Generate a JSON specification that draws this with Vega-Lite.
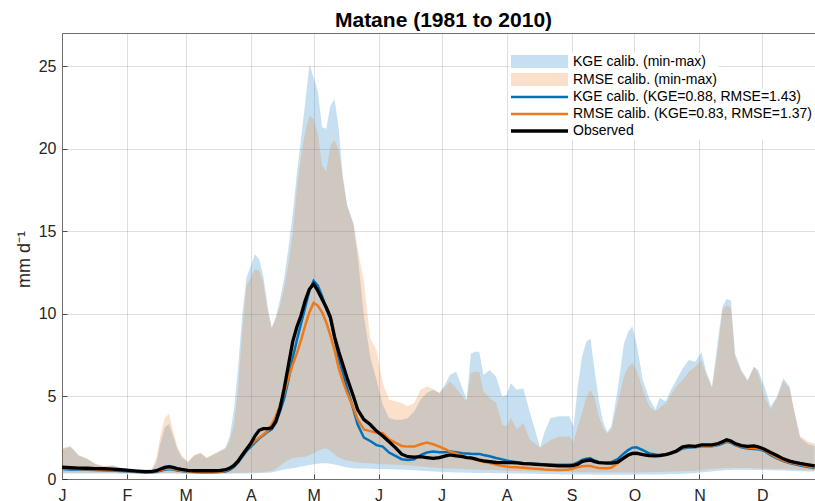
{
"$schema": "https://vega.github.io/schema/vega-lite/v6.json",
"width": 754,
"height": 446,
"autosize": {"type": "none"},
"padding": {"left": 62, "top": 33, "right": 0, "bottom": 22},
"background": "white",
"config": {
  "font": "Liberation Sans",
  "view": {"stroke": "#707070", "strokeWidth": 1},
  "axis": {"labelFont": "Liberation Sans", "labelFontSize": 16, "labelColor": "#262626", "domainColor": "#707070", "domainWidth": 1, "tickColor": "#262626", "tickWidth": 0.8, "tickSize": -5, "gridColor": "#262626", "gridOpacity": 0.15, "gridWidth": 1, "labelFlush": false, "labelOverlap": false},
  "legend": {"orient": "none", "fillColor": "white", "padding": 1.5, "labelFont": "Liberation Sans", "labelFontSize": 14, "labelColor": "black", "symbolSize": 144, "symbolOffset": 21.5, "labelOffset": 26.5, "labelLimit": 500}
},
"title": {"text": "Matane (1981 to 2010)", "font": "Liberation Sans", "fontSize": 21, "fontWeight": "bold", "color": "black", "anchor": "middle", "frame": "group", "baseline": "alphabetic", "offset": 6, "dx": 4.5, "dy": 21},
"data": {"values": [
{"day":1,"kmin":0.33,"kmax":1.8,"rmin":0.38,"rmax":1.86,"kge":0.6,"rmse":0.64,"obs":0.71},
{"day":5,"kmin":0.33,"kmax":1.95,"rmin":0.38,"rmax":2.0,"kge":0.58,"rmse":0.62,"obs":0.68},
{"day":9,"kmin":0.33,"kmax":1.4,"rmin":0.38,"rmax":1.46,"kge":0.57,"rmse":0.6,"obs":0.66},
{"day":13,"kmin":0.33,"kmax":1.2,"rmin":0.38,"rmax":1.25,"kge":0.56,"rmse":0.59,"obs":0.65},
{"day":17,"kmin":0.33,"kmax":0.9,"rmin":0.38,"rmax":0.92,"kge":0.55,"rmse":0.58,"obs":0.63},
{"day":21,"kmin":0.33,"kmax":0.75,"rmin":0.38,"rmax":0.78,"kge":0.53,"rmse":0.56,"obs":0.62},
{"day":25,"kmin":0.33,"kmax":0.82,"rmin":0.38,"rmax":0.8,"kge":0.51,"rmse":0.54,"obs":0.6},
{"day":29,"kmin":0.32,"kmax":0.68,"rmin":0.37,"rmax":0.65,"kge":0.48,"rmse":0.51,"obs":0.56},
{"day":33,"kmin":0.32,"kmax":0.6,"rmin":0.36,"rmax":0.6,"kge":0.45,"rmse":0.48,"obs":0.52},
{"day":37,"kmin":0.31,"kmax":0.55,"rmin":0.35,"rmax":0.55,"kge":0.42,"rmse":0.45,"obs":0.48},
{"day":41,"kmin":0.31,"kmax":0.55,"rmin":0.35,"rmax":0.57,"kge":0.4,"rmse":0.43,"obs":0.45},
{"day":44,"kmin":0.31,"kmax":0.58,"rmin":0.35,"rmax":0.62,"kge":0.41,"rmse":0.43,"obs":0.46},
{"day":46,"kmin":0.31,"kmax":1.0,"rmin":0.35,"rmax":1.3,"kge":0.44,"rmse":0.47,"obs":0.5},
{"day":48,"kmin":0.32,"kmax":2.2,"rmin":0.36,"rmax":2.7,"kge":0.5,"rmse":0.54,"obs":0.6},
{"day":50,"kmin":0.33,"kmax":3.1,"rmin":0.37,"rmax":3.7,"kge":0.56,"rmse":0.6,"obs":0.7},
{"day":52,"kmin":0.33,"kmax":3.35,"rmin":0.37,"rmax":3.95,"kge":0.6,"rmse":0.64,"obs":0.75},
{"day":54,"kmin":0.33,"kmax":2.6,"rmin":0.37,"rmax":2.9,"kge":0.57,"rmse":0.6,"obs":0.7},
{"day":56,"kmin":0.32,"kmax":1.8,"rmin":0.36,"rmax":2.0,"kge":0.52,"rmse":0.55,"obs":0.63},
{"day":58,"kmin":0.32,"kmax":1.35,"rmin":0.36,"rmax":1.45,"kge":0.48,"rmse":0.5,"obs":0.58},
{"day":61,"kmin":0.31,"kmax":1.0,"rmin":0.35,"rmax":1.05,"kge":0.44,"rmse":0.46,"obs":0.52},
{"day":64,"kmin":0.31,"kmax":1.4,"rmin":0.35,"rmax":1.45,"kge":0.42,"rmse":0.44,"obs":0.5},
{"day":67,"kmin":0.31,"kmax":1.55,"rmin":0.35,"rmax":1.6,"kge":0.41,"rmse":0.43,"obs":0.5},
{"day":70,"kmin":0.31,"kmax":1.25,"rmin":0.35,"rmax":1.3,"kge":0.41,"rmse":0.43,"obs":0.5},
{"day":73,"kmin":0.31,"kmax":1.45,"rmin":0.35,"rmax":1.5,"kge":0.41,"rmse":0.43,"obs":0.5},
{"day":76,"kmin":0.31,"kmax":1.65,"rmin":0.35,"rmax":1.7,"kge":0.42,"rmse":0.44,"obs":0.51},
{"day":79,"kmin":0.32,"kmax":1.9,"rmin":0.36,"rmax":1.8,"kge":0.46,"rmse":0.5,"obs":0.56},
{"day":81,"kmin":0.32,"kmax":2.6,"rmin":0.36,"rmax":2.3,"kge":0.55,"rmse":0.62,"obs":0.66},
{"day":83,"kmin":0.33,"kmax":4.2,"rmin":0.37,"rmax":3.3,"kge":0.72,"rmse":0.85,"obs":0.82},
{"day":85,"kmin":0.33,"kmax":6.8,"rmin":0.37,"rmax":5.5,"kge":1.0,"rmse":1.15,"obs":1.08},
{"day":87,"kmin":0.34,"kmax":10.0,"rmin":0.38,"rmax":9.0,"kge":1.35,"rmse":1.5,"obs":1.45},
{"day":89,"kmin":0.34,"kmax":12.2,"rmin":0.38,"rmax":11.7,"kge":1.7,"rmse":1.85,"obs":1.8},
{"day":91,"kmin":0.35,"kmax":12.9,"rmin":0.39,"rmax":12.2,"kge":1.95,"rmse":2.05,"obs":2.15},
{"day":93,"kmin":0.35,"kmax":13.6,"rmin":0.39,"rmax":12.7,"kge":2.2,"rmse":2.3,"obs":2.6},
{"day":95,"kmin":0.36,"kmax":13.3,"rmin":0.4,"rmax":12.6,"kge":2.45,"rmse":2.5,"obs":2.95},
{"day":97,"kmin":0.37,"kmax":12.3,"rmin":0.42,"rmax":11.9,"kge":2.65,"rmse":2.7,"obs":3.05},
{"day":99,"kmin":0.38,"kmax":10.5,"rmin":0.45,"rmax":10.2,"kge":2.85,"rmse":2.9,"obs":3.05},
{"day":101,"kmin":0.4,"kmax":9.1,"rmin":0.5,"rmax":9.2,"kge":3.0,"rmse":3.28,"obs":3.1},
{"day":103,"kmin":0.45,"kmax":9.8,"rmin":0.6,"rmax":9.7,"kge":3.4,"rmse":3.8,"obs":3.5},
{"day":105,"kmin":0.52,"kmax":10.9,"rmin":0.8,"rmax":10.5,"kge":4.1,"rmse":4.5,"obs":4.3},
{"day":107,"kmin":0.58,"kmax":12.2,"rmin":1.0,"rmax":11.6,"kge":4.9,"rmse":5.2,"obs":5.5},
{"day":109,"kmin":0.62,"kmax":14.0,"rmin":1.15,"rmax":13.0,"kge":6.0,"rmse":6.1,"obs":6.9},
{"day":111,"kmin":0.65,"kmax":16.0,"rmin":1.25,"rmax":14.8,"kge":7.3,"rmse":6.9,"obs":8.3},
{"day":113,"kmin":0.7,"kmax":18.5,"rmin":1.3,"rmax":17.5,"kge":8.4,"rmse":7.6,"obs":9.2},
{"day":115,"kmin":0.75,"kmax":20.6,"rmin":1.33,"rmax":19.5,"kge":9.4,"rmse":8.4,"obs":9.9},
{"day":117,"kmin":0.8,"kmax":22.8,"rmin":1.35,"rmax":21.0,"kge":10.4,"rmse":9.3,"obs":10.8},
{"day":119,"kmin":0.85,"kmax":25.1,"rmin":1.45,"rmax":22.0,"kge":11.4,"rmse":10.1,"obs":11.5},
{"day":121,"kmin":0.9,"kmax":24.3,"rmin":1.55,"rmax":21.8,"kge":12.0,"rmse":10.66,"obs":11.8},
{"day":123,"kmin":0.92,"kmax":23.5,"rmin":1.7,"rmax":20.9,"kge":11.7,"rmse":10.5,"obs":11.4},
{"day":125,"kmin":0.95,"kmax":21.3,"rmin":1.82,"rmax":19.0,"kge":11.1,"rmse":10.1,"obs":10.9},
{"day":127,"kmin":0.95,"kmax":21.2,"rmin":1.86,"rmax":18.6,"kge":10.3,"rmse":9.5,"obs":10.4},
{"day":129,"kmin":0.92,"kmax":22.6,"rmin":1.7,"rmax":20.2,"kge":9.7,"rmse":8.7,"obs":9.8},
{"day":131,"kmin":0.88,"kmax":23.0,"rmin":1.5,"rmax":20.5,"kge":8.5,"rmse":7.8,"obs":8.6},
{"day":133,"kmin":0.82,"kmax":21.2,"rmin":1.3,"rmax":19.9,"kge":7.3,"rmse":6.7,"obs":7.7},
{"day":135,"kmin":0.75,"kmax":18.2,"rmin":1.2,"rmax":18.2,"kge":6.4,"rmse":5.9,"obs":6.9},
{"day":137,"kmin":0.7,"kmax":16.6,"rmin":1.12,"rmax":16.5,"kge":5.5,"rmse":5.2,"obs":6.1},
{"day":140,"kmin":0.65,"kmax":15.4,"rmin":1.05,"rmax":15.5,"kge":4.2,"rmse":4.3,"obs":5.0},
{"day":142,"kmin":0.64,"kmax":13.5,"rmin":1.0,"rmax":14.0,"kge":3.3,"rmse":3.6,"obs":4.2},
{"day":145,"kmin":0.63,"kmax":9.85,"rmin":0.97,"rmax":11.9,"kge":2.5,"rmse":3.0,"obs":3.6},
{"day":148,"kmin":0.62,"kmax":7.4,"rmin":0.95,"rmax":8.5,"kge":2.3,"rmse":2.9,"obs":3.3},
{"day":151,"kmin":0.61,"kmax":6.0,"rmin":0.92,"rmax":7.8,"kge":2.05,"rmse":2.8,"obs":2.9},
{"day":154,"kmin":0.6,"kmax":4.5,"rmin":0.9,"rmax":5.8,"kge":1.96,"rmse":2.77,"obs":2.6},
{"day":157,"kmin":0.6,"kmax":3.7,"rmin":0.88,"rmax":4.8,"kge":1.6,"rmse":2.4,"obs":2.25},
{"day":160,"kmin":0.58,"kmax":3.58,"rmin":0.86,"rmax":4.7,"kge":1.4,"rmse":2.2,"obs":1.9},
{"day":163,"kmin":0.57,"kmax":3.58,"rmin":0.84,"rmax":4.6,"kge":1.2,"rmse":2.0,"obs":1.5},
{"day":166,"kmin":0.55,"kmax":3.7,"rmin":0.82,"rmax":4.4,"kge":1.15,"rmse":1.96,"obs":1.35},
{"day":169,"kmin":0.53,"kmax":4.1,"rmin":0.8,"rmax":4.6,"kge":1.19,"rmse":1.96,"obs":1.32},
{"day":172,"kmin":0.5,"kmax":4.8,"rmin":0.75,"rmax":5.4,"kge":1.45,"rmse":2.1,"obs":1.35},
{"day":175,"kmin":0.48,"kmax":5.2,"rmin":0.72,"rmax":5.6,"kge":1.6,"rmse":2.2,"obs":1.3},
{"day":178,"kmin":0.46,"kmax":5.4,"rmin":0.7,"rmax":5.45,"kge":1.66,"rmse":2.1,"obs":1.25},
{"day":181,"kmin":0.44,"kmax":5.2,"rmin":0.66,"rmax":5.2,"kge":1.62,"rmse":1.96,"obs":1.3},
{"day":184,"kmin":0.42,"kmax":5.8,"rmin":0.64,"rmax":5.6,"kge":1.62,"rmse":1.8,"obs":1.4},
{"day":186,"kmin":0.41,"kmax":6.3,"rmin":0.63,"rmax":5.9,"kge":1.66,"rmse":1.66,"obs":1.46},
{"day":189,"kmin":0.4,"kmax":6.5,"rmin":0.62,"rmax":5.5,"kge":1.62,"rmse":1.55,"obs":1.4},
{"day":192,"kmin":0.39,"kmax":5.5,"rmin":0.6,"rmax":5.0,"kge":1.56,"rmse":1.4,"obs":1.35},
{"day":194,"kmin":0.38,"kmax":4.8,"rmin":0.59,"rmax":4.7,"kge":1.55,"rmse":1.32,"obs":1.3},
{"day":196,"kmin":0.38,"kmax":7.6,"rmin":0.58,"rmax":6.4,"kge":1.53,"rmse":1.25,"obs":1.28},
{"day":198,"kmin":0.37,"kmax":7.7,"rmin":0.57,"rmax":6.5,"kge":1.52,"rmse":1.18,"obs":1.22},
{"day":200,"kmin":0.37,"kmax":7.7,"rmin":0.56,"rmax":6.5,"kge":1.52,"rmse":1.1,"obs":1.15},
{"day":202,"kmin":0.36,"kmax":6.3,"rmin":0.55,"rmax":5.3,"kge":1.45,"rmse":1.05,"obs":1.1},
{"day":205,"kmin":0.36,"kmax":6.6,"rmin":0.54,"rmax":4.9,"kge":1.38,"rmse":0.97,"obs":1.05},
{"day":208,"kmin":0.35,"kmax":6.2,"rmin":0.53,"rmax":4.6,"kge":1.27,"rmse":0.88,"obs":1.0},
{"day":211,"kmin":0.35,"kmax":5.0,"rmin":0.52,"rmax":3.3,"kge":1.19,"rmse":0.78,"obs":0.99},
{"day":213,"kmin":0.34,"kmax":5.1,"rmin":0.51,"rmax":3.2,"kge":1.12,"rmse":0.75,"obs":0.99},
{"day":215,"kmin":0.34,"kmax":5.8,"rmin":0.5,"rmax":3.7,"kge":1.08,"rmse":0.73,"obs":0.99},
{"day":218,"kmin":0.33,"kmax":5.4,"rmin":0.49,"rmax":3.0,"kge":1.02,"rmse":0.71,"obs":0.98},
{"day":221,"kmin":0.33,"kmax":5.5,"rmin":0.48,"rmax":3.4,"kge":0.96,"rmse":0.68,"obs":0.93},
{"day":224,"kmin":0.32,"kmax":4.1,"rmin":0.47,"rmax":2.4,"kge":0.94,"rmse":0.65,"obs":0.91},
{"day":227,"kmin":0.32,"kmax":2.8,"rmin":0.46,"rmax":2.1,"kge":0.92,"rmse":0.62,"obs":0.89},
{"day":229,"kmin":0.31,"kmax":1.9,"rmin":0.45,"rmax":1.9,"kge":0.91,"rmse":0.6,"obs":0.87},
{"day":231,"kmin":0.31,"kmax":2.8,"rmin":0.45,"rmax":2.1,"kge":0.9,"rmse":0.58,"obs":0.86},
{"day":234,"kmin":0.3,"kmax":3.7,"rmin":0.44,"rmax":2.35,"kge":0.88,"rmse":0.56,"obs":0.83},
{"day":238,"kmin":0.29,"kmax":3.8,"rmin":0.43,"rmax":2.57,"kge":0.86,"rmse":0.55,"obs":0.8},
{"day":241,"kmin":0.28,"kmax":3.8,"rmin":0.42,"rmax":2.57,"kge":0.86,"rmse":0.56,"obs":0.8},
{"day":243,"kmin":0.28,"kmax":3.8,"rmin":0.42,"rmax":2.57,"kge":0.87,"rmse":0.58,"obs":0.8},
{"day":245,"kmin":0.27,"kmax":3.2,"rmin":0.41,"rmax":2.26,"kge":0.9,"rmse":0.65,"obs":0.82},
{"day":247,"kmin":0.27,"kmax":5.6,"rmin":0.41,"rmax":3.2,"kge":1.0,"rmse":0.72,"obs":0.9},
{"day":249,"kmin":0.27,"kmax":7.4,"rmin":0.41,"rmax":4.0,"kge":1.15,"rmse":0.77,"obs":1.05},
{"day":251,"kmin":0.27,"kmax":8.3,"rmin":0.41,"rmax":4.9,"kge":1.22,"rmse":0.79,"obs":1.12},
{"day":253,"kmin":0.27,"kmax":8.5,"rmin":0.41,"rmax":5.4,"kge":1.25,"rmse":0.79,"obs":1.15},
{"day":255,"kmin":0.26,"kmax":6.6,"rmin":0.4,"rmax":4.9,"kge":1.12,"rmse":0.72,"obs":1.05},
{"day":257,"kmin":0.26,"kmax":4.8,"rmin":0.4,"rmax":3.8,"kge":1.02,"rmse":0.67,"obs":0.99},
{"day":259,"kmin":0.26,"kmax":3.5,"rmin":0.4,"rmax":3.1,"kge":1.0,"rmse":0.65,"obs":0.97},
{"day":261,"kmin":0.26,"kmax":2.85,"rmin":0.4,"rmax":2.75,"kge":0.99,"rmse":0.65,"obs":0.96},
{"day":263,"kmin":0.26,"kmax":3.2,"rmin":0.4,"rmax":3.0,"kge":1.02,"rmse":0.68,"obs":0.96},
{"day":266,"kmin":0.26,"kmax":5.4,"rmin":0.4,"rmax":4.6,"kge":1.2,"rmse":0.95,"obs":1.02},
{"day":269,"kmin":0.26,"kmax":8.2,"rmin":0.4,"rmax":6.2,"kge":1.55,"rmse":1.25,"obs":1.28},
{"day":271,"kmin":0.26,"kmax":8.9,"rmin":0.4,"rmax":6.8,"kge":1.75,"rmse":1.42,"obs":1.45},
{"day":273,"kmin":0.26,"kmax":9.24,"rmin":0.4,"rmax":7.0,"kge":1.9,"rmse":1.5,"obs":1.55},
{"day":275,"kmin":0.26,"kmax":8.2,"rmin":0.4,"rmax":6.6,"kge":1.92,"rmse":1.52,"obs":1.56},
{"day":278,"kmin":0.27,"kmax":6.0,"rmin":0.41,"rmax":5.4,"kge":1.75,"rmse":1.46,"obs":1.48},
{"day":281,"kmin":0.27,"kmax":4.9,"rmin":0.41,"rmax":4.4,"kge":1.55,"rmse":1.4,"obs":1.42},
{"day":284,"kmin":0.28,"kmax":4.2,"rmin":0.42,"rmax":4.1,"kge":1.48,"rmse":1.4,"obs":1.4},
{"day":286,"kmin":0.28,"kmax":4.9,"rmin":0.43,"rmax":4.3,"kge":1.46,"rmse":1.42,"obs":1.42},
{"day":289,"kmin":0.29,"kmax":4.7,"rmin":0.44,"rmax":4.6,"kge":1.48,"rmse":1.48,"obs":1.48},
{"day":291,"kmin":0.3,"kmax":5.3,"rmin":0.45,"rmax":5.0,"kge":1.52,"rmse":1.52,"obs":1.55},
{"day":294,"kmin":0.31,"kmax":6.0,"rmin":0.46,"rmax":5.6,"kge":1.65,"rmse":1.68,"obs":1.7},
{"day":297,"kmin":0.32,"kmax":6.7,"rmin":0.47,"rmax":6.0,"kge":1.85,"rmse":1.9,"obs":1.95},
{"day":300,"kmin":0.34,"kmax":7.2,"rmin":0.48,"rmax":6.5,"kge":1.9,"rmse":1.95,"obs":2.0},
{"day":303,"kmin":0.36,"kmax":7.1,"rmin":0.5,"rmax":6.8,"kge":1.92,"rmse":1.96,"obs":1.98},
{"day":306,"kmin":0.4,"kmax":7.7,"rmin":0.55,"rmax":7.2,"kge":1.98,"rmse":2.0,"obs":2.06},
{"day":308,"kmin":0.43,"kmax":6.6,"rmin":0.58,"rmax":6.4,"kge":1.98,"rmse":2.0,"obs":2.06},
{"day":311,"kmin":0.46,"kmax":5.6,"rmin":0.6,"rmax":5.5,"kge":1.98,"rmse":2.0,"obs":2.06},
{"day":314,"kmin":0.5,"kmax":8.6,"rmin":0.63,"rmax":8.0,"kge":2.05,"rmse":2.1,"obs":2.15},
{"day":316,"kmin":0.52,"kmax":10.45,"rmin":0.65,"rmax":10.25,"kge":2.15,"rmse":2.2,"obs":2.26},
{"day":318,"kmin":0.54,"kmax":10.9,"rmin":0.66,"rmax":10.5,"kge":2.25,"rmse":2.3,"obs":2.37},
{"day":320,"kmin":0.55,"kmax":10.8,"rmin":0.67,"rmax":10.4,"kge":2.2,"rmse":2.25,"obs":2.3},
{"day":322,"kmin":0.56,"kmax":7.6,"rmin":0.67,"rmax":7.4,"kge":2.05,"rmse":2.1,"obs":2.15},
{"day":325,"kmin":0.56,"kmax":6.6,"rmin":0.67,"rmax":6.5,"kge":1.92,"rmse":1.95,"obs":2.02},
{"day":328,"kmin":0.56,"kmax":6.0,"rmin":0.66,"rmax":5.9,"kge":1.85,"rmse":1.9,"obs":1.98},
{"day":331,"kmin":0.55,"kmax":6.8,"rmin":0.65,"rmax":6.8,"kge":1.82,"rmse":1.88,"obs":2.0},
{"day":333,"kmin":0.55,"kmax":6.6,"rmin":0.64,"rmax":6.4,"kge":1.8,"rmse":1.85,"obs":1.95},
{"day":336,"kmin":0.54,"kmax":5.6,"rmin":0.63,"rmax":5.0,"kge":1.7,"rmse":1.75,"obs":1.8},
{"day":339,"kmin":0.53,"kmax":4.4,"rmin":0.62,"rmax":4.2,"kge":1.45,"rmse":1.5,"obs":1.6},
{"day":342,"kmin":0.52,"kmax":5.0,"rmin":0.61,"rmax":4.9,"kge":1.25,"rmse":1.3,"obs":1.42},
{"day":345,"kmin":0.51,"kmax":6.1,"rmin":0.6,"rmax":5.9,"kge":1.08,"rmse":1.12,"obs":1.22},
{"day":348,"kmin":0.5,"kmax":5.6,"rmin":0.58,"rmax":5.5,"kge":0.96,"rmse":1.0,"obs":1.08},
{"day":350,"kmin":0.49,"kmax":4.2,"rmin":0.57,"rmax":4.3,"kge":0.9,"rmse":0.95,"obs":1.02},
{"day":353,"kmin":0.47,"kmax":2.5,"rmin":0.55,"rmax":2.6,"kge":0.82,"rmse":0.86,"obs":0.94},
{"day":357,"kmin":0.46,"kmax":2.1,"rmin":0.53,"rmax":2.25,"kge":0.72,"rmse":0.77,"obs":0.85},
{"day":360,"kmin":0.45,"kmax":2.0,"rmin":0.52,"rmax":2.15,"kge":0.65,"rmse":0.7,"obs":0.79}
]},
"encoding": {
  "x": {"field": "day", "type": "quantitative",
        "scale": {"domain": [1, 360.6], "nice": false, "zero": false},
        "axis": {"title": null, "values": [1,32,60,91,121,152,182,213,244,274,305,335],
                 "labelExpr": "['J','F','M','A','M','J','J','A','S','O','N','D'][indexof([1,32,60,91,121,152,182,213,244,274,305,335], datum.value)]",
                 "labelPadding": 13, "grid": true}}
},
"layer": [
  {"mark": {"type": "area", "opacity": 0.22},
   "encoding": {
     "y": {"field": "kmin", "type": "quantitative", "scale": {"domain": [0, 27], "nice": false},
           "axis": {"title": "mm d⁻¹", "values": [0,5,10,15,20,25], "labelPadding": 11, "grid": true, "titleFont": "Liberation Sans", "titleFontSize": 18, "titleFontWeight": "normal", "titleColor": "#262626", "titleAngle": -90, "titleAlign": "center", "titleBaseline": "middle", "titleX": -38, "titleY": 226}},
     "y2": {"field": "kmax"},
     "fill": {"datum": "KGE calib. (min-max)", "type": "nominal",
              "scale": {"domain": ["KGE calib. (min-max)", "RMSE calib. (min-max)"], "range": ["#0072BD", "#EE7014"]},
              "legend": {"title": null, "legendX": 447.5, "legendY": 20, "symbolType": "M-4.75,-1.08H4.75V1.08H-4.75Z", "symbolOpacity": 0.22, "symbolStrokeWidth": 0, "rowPadding": 4, "zindex": 2}}
   }},
  {"mark": {"type": "area", "opacity": 0.22},
   "encoding": {
     "y": {"field": "rmin", "type": "quantitative", "scale": {"domain": [0, 27], "nice": false},
           "axis": {"title": "mm d⁻¹", "values": [0,5,10,15,20,25], "labelPadding": 11, "grid": true, "titleFont": "Liberation Sans", "titleFontSize": 18, "titleFontWeight": "normal", "titleColor": "#262626", "titleAngle": -90, "titleAlign": "center", "titleBaseline": "middle", "titleX": -38, "titleY": 226}},
     "y2": {"field": "rmax"},
     "fill": {"datum": "RMSE calib. (min-max)", "type": "nominal",
              "scale": {"domain": ["KGE calib. (min-max)", "RMSE calib. (min-max)"], "range": ["#0072BD", "#EE7014"]},
              "legend": {"title": null, "legendX": 447.5, "legendY": 20, "symbolType": "M-4.75,-1.08H4.75V1.08H-4.75Z", "symbolOpacity": 0.22, "symbolStrokeWidth": 0, "rowPadding": 4, "zindex": 2}}
   }},
  {"mark": {"type": "line", "strokeWidth": 2.5},
   "encoding": {
     "y": {"field": "kge", "type": "quantitative", "scale": {"domain": [0, 27], "nice": false},
           "axis": {"title": "mm d⁻¹", "values": [0,5,10,15,20,25], "labelPadding": 11, "grid": true, "titleFont": "Liberation Sans", "titleFontSize": 18, "titleFontWeight": "normal", "titleColor": "#262626", "titleAngle": -90, "titleAlign": "center", "titleBaseline": "middle", "titleX": -38, "titleY": 226}},
     "stroke": {"datum": "KGE calib. (KGE=0.88, RMSE=1.43)", "type": "nominal",
                "scale": {"domain": ["KGE calib. (KGE=0.88, RMSE=1.43)", "RMSE calib. (KGE=0.83, RMSE=1.37)", "Observed"], "range": ["#0072BD", "#EC7A1C", "#000000"]},
                "legend": {"title": null, "legendX": 447.5, "legendY": 55.5, "symbolType": "M-4.75,0H4.75", "symbolStrokeWidth": 2.5, "rowPadding": 3, "zindex": 2,
                           "encode": {"symbols": {"update": {"strokeWidth": {"signal": "datum.value === 'Observed' ? 3.5 : 2.5"}, "fill": {"value": "transparent"}}}}}}
   }},
  {"mark": {"type": "line", "strokeWidth": 2.5},
   "encoding": {
     "y": {"field": "rmse", "type": "quantitative", "scale": {"domain": [0, 27], "nice": false},
           "axis": {"title": "mm d⁻¹", "values": [0,5,10,15,20,25], "labelPadding": 11, "grid": true, "titleFont": "Liberation Sans", "titleFontSize": 18, "titleFontWeight": "normal", "titleColor": "#262626", "titleAngle": -90, "titleAlign": "center", "titleBaseline": "middle", "titleX": -38, "titleY": 226}},
     "stroke": {"datum": "RMSE calib. (KGE=0.83, RMSE=1.37)", "type": "nominal",
                "scale": {"domain": ["KGE calib. (KGE=0.88, RMSE=1.43)", "RMSE calib. (KGE=0.83, RMSE=1.37)", "Observed"], "range": ["#0072BD", "#EC7A1C", "#000000"]},
                "legend": {"title": null, "legendX": 447.5, "legendY": 55.5, "symbolType": "M-4.75,0H4.75", "symbolStrokeWidth": 2.5, "rowPadding": 3, "zindex": 2,
                           "encode": {"symbols": {"update": {"strokeWidth": {"signal": "datum.value === 'Observed' ? 3.5 : 2.5"}, "fill": {"value": "transparent"}}}}}}
   }},
  {"mark": {"type": "line", "strokeWidth": 3.3},
   "encoding": {
     "y": {"field": "obs", "type": "quantitative", "scale": {"domain": [0, 27], "nice": false},
           "axis": {"title": "mm d⁻¹", "values": [0,5,10,15,20,25], "labelPadding": 11, "grid": true, "titleFont": "Liberation Sans", "titleFontSize": 18, "titleFontWeight": "normal", "titleColor": "#262626", "titleAngle": -90, "titleAlign": "center", "titleBaseline": "middle", "titleX": -38, "titleY": 226}},
     "stroke": {"datum": "Observed", "type": "nominal",
                "scale": {"domain": ["KGE calib. (KGE=0.88, RMSE=1.43)", "RMSE calib. (KGE=0.83, RMSE=1.37)", "Observed"], "range": ["#0072BD", "#EC7A1C", "#000000"]},
                "legend": {"title": null, "legendX": 447.5, "legendY": 55.5, "symbolType": "M-4.75,0H4.75", "symbolStrokeWidth": 2.5, "rowPadding": 3, "zindex": 2,
                           "encode": {"symbols": {"update": {"strokeWidth": {"signal": "datum.value === 'Observed' ? 3.5 : 2.5"}, "fill": {"value": "transparent"}}}}}}
   }}
]
}
